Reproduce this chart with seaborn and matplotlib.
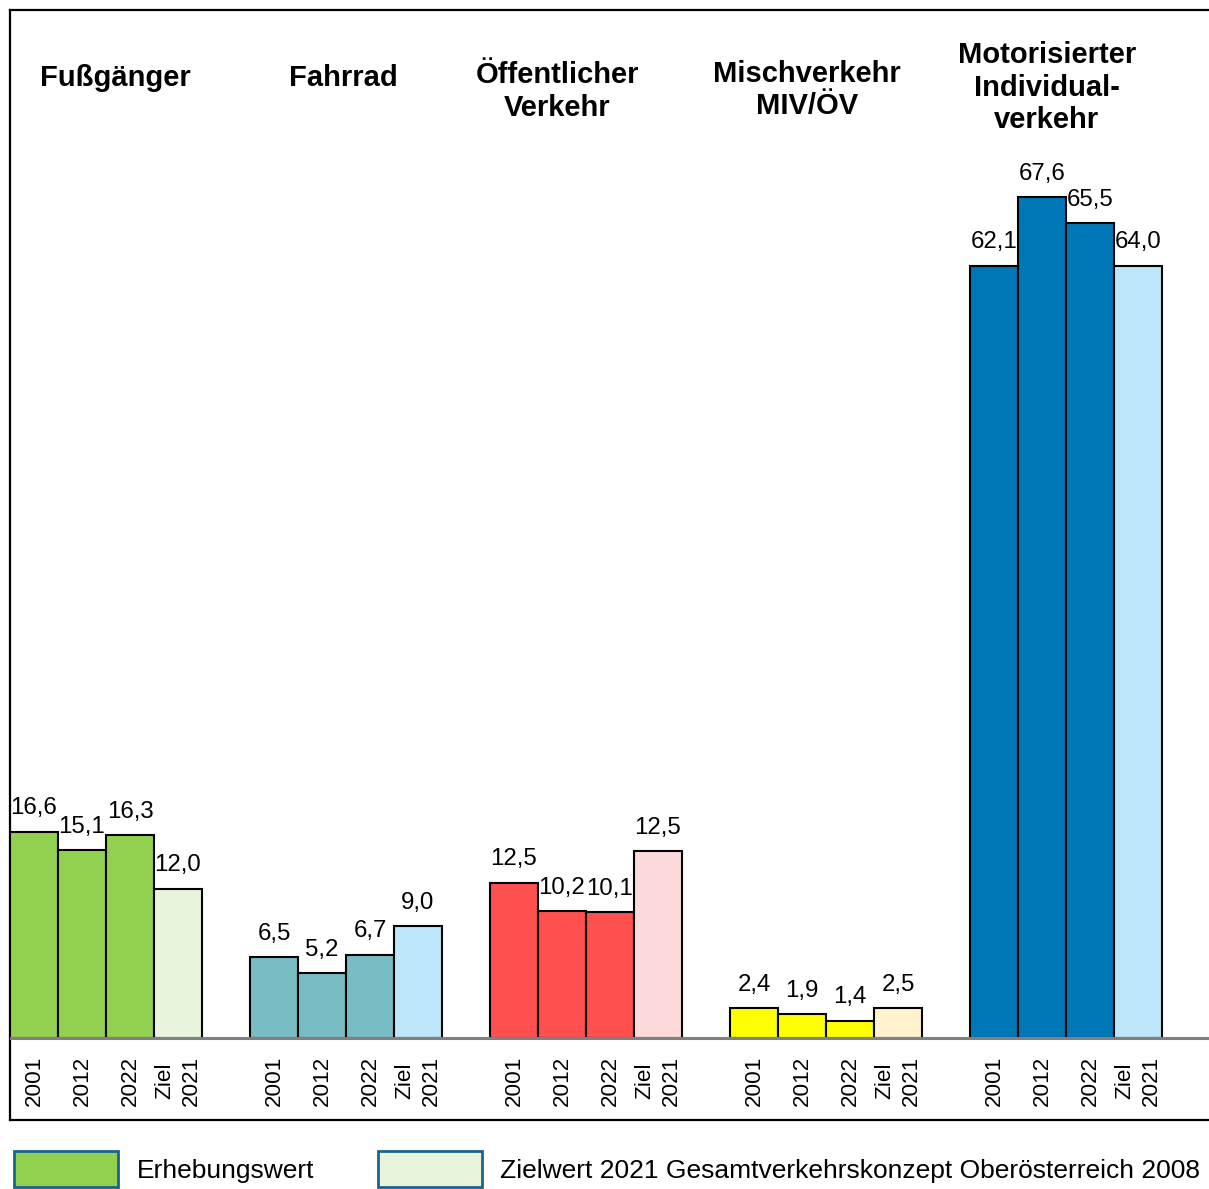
import matplotlib
matplotlib.use("Agg")
import matplotlib.pyplot as plt
from matplotlib.patches import Patch
import seaborn as sns
import pandas as pd

# Data
groups = ['Fußgänger', 'Fahrrad', 'Öffentlicher\nVerkehr', 'Mischverkehr\nMIV/ÖV',
          'Motorisierter\nIndividual-\nverkehr']
periods = ['2001', '2012', '2022', 'Ziel\n2021']

# bar heights as drawn in the chart
fussgaenger = [16.6, 15.1, 16.3, 12.0]
fahrrad = [6.5, 5.2, 6.7, 9.0]
oeffentlich = [12.5, 10.2, 10.1, 15.0]
mischverkehr = [2.4, 1.9, 1.4, 2.4]
miv = [62.1, 67.6, 65.5, 62.1]
values = [fussgaenger, fahrrad, oeffentlich, mischverkehr, miv]

# printed target values (the target bars are labelled with these)
ziel_labels = [12.0, 9.0, 12.5, 2.5, 64.0]

# survey colour / target colour per group
survey_colors = ['#92D050', '#78BCC4', '#FF5050', '#FFFF00', '#0077B6']
target_colors = ['#E8F5DC', '#BDE6FA', '#FDDADA', '#FFF2CC', '#BDE6FA']

legend_labels = ['Erhebungswert', 'Zielwert 2021 Gesamtverkehrskonzept Oberösterreich 2008']

# title placement (offset from group centre, height)
title_dx = [0.19, -0.06, -0.6, -0.4, -0.4]
title_y = [77.2, 77.2, 76.1, 76.2, 76.4]

# Build table
rows = []
palette = {}
for g, (grp, vals) in enumerate(zip(groups, values)):
    for i, (per, v) in enumerate(zip(periods, vals)):
        bar_id = f'{g}-{i}'
        shown = ziel_labels[g] if i == 3 else v
        rows.append({'bar': bar_id, 'pos': g * 5 + i, 'value': v, 'period': per,
                     'label': f'{shown:.1f}'.replace('.', ',')})
        palette[bar_id] = target_colors[g] if i == 3 else survey_colors[g]
df = pd.DataFrame(rows)

plt.rcParams['font.family'] = ['Liberation Sans', 'DejaVu Sans']

fig = plt.figure(figsize=(12.09, 11.89), dpi=100)
W, H = 1209, 1189
ax = fig.add_axes([10 / W, (H - 1120) / H, 1210 / W, 1110 / H])

sns.barplot(data=df, x='pos', y='value', hue='bar', palette=palette, native_scale=True,
            width=1.0, errorbar=None, edgecolor='black', linewidth=1.5, saturation=1,
            legend=False, ax=ax, zorder=3)

ax.set_xlim(-0.5, -0.5 + 1210 / 48)
ax.set_ylim(-6.59, 82.64)
ax.axhline(0, color='#808080', linewidth=2.2, zorder=4)

# value labels (one container per bar, same order as the table)
for cont, lab in zip(ax.containers, df['label']):
    ax.bar_label(cont, labels=[lab], padding=9, fontsize=17.3)

# period labels under bars
for _, r in df.iterrows():
    ax.text(r['pos'], -3.46, r['period'], rotation=90, ha='center', va='center',
            multialignment='center', fontsize=16.2, linespacing=1.4)

# group titles
for g, grp in enumerate(groups):
    ax.text(g * 5 + 1.5 + title_dx[g], title_y[g], grp, ha='center', va='center',
            fontsize=21, fontweight='bold', multialignment='center', linespacing=1.2)

ax.set_xticks([])
ax.set_yticks([])
ax.set_xlabel('')
ax.set_ylabel('')
for side in ['left', 'top', 'bottom']:
    ax.spines[side].set_linewidth(1.6)
    ax.spines[side].set_color('black')
ax.spines['right'].set_visible(False)

handles = [Patch(facecolor=survey_colors[0], edgecolor='#1B6491', linewidth=2),
           Patch(facecolor=target_colors[0], edgecolor='#1B6491', linewidth=2)]
fig.legend(handles, legend_labels, loc='upper left', bbox_to_anchor=(14 / W, 1 - 1151 / H),
           ncol=2, frameon=False, fontsize=19.0, borderpad=0, borderaxespad=0,
           handlelength=3.95, handleheight=1.75, handletextpad=0.7, columnspacing=2.4)

fig.savefig('out.png', dpi=100)
